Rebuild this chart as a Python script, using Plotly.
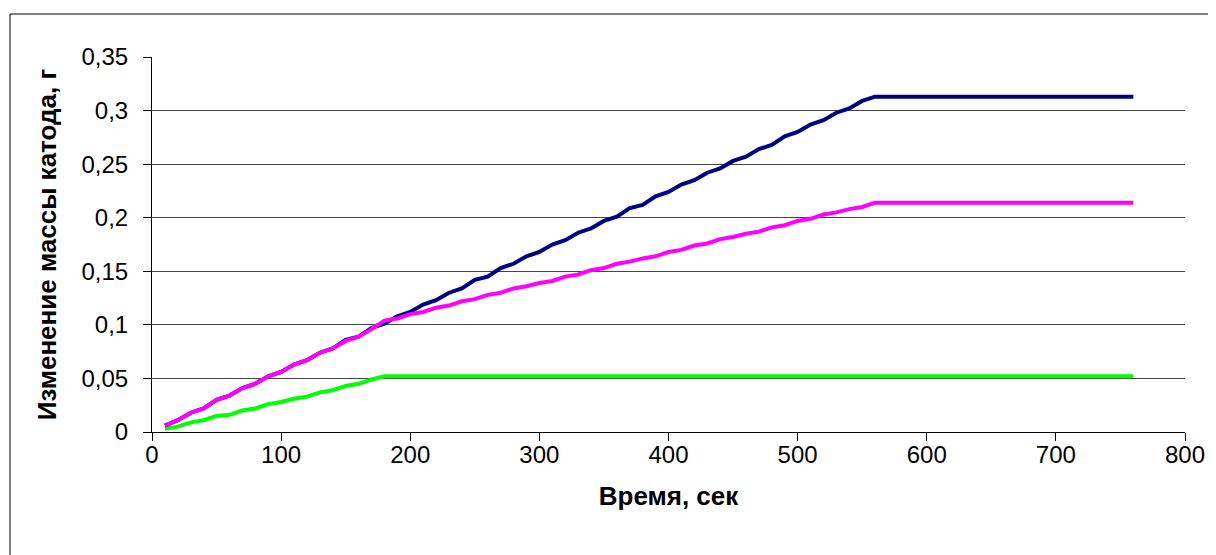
import plotly.graph_objects as go

time_s = [10, 20, 30, 40, 50, 60, 70, 80, 90, 100, 110, 120, 130, 140, 150, 160, 170, 180,
          190, 200, 210, 220, 230, 240, 250, 260, 270, 280, 290, 300, 310, 320, 330, 340, 350,
          360, 370, 380, 390, 400, 410, 420, 430, 440, 450, 460, 470, 480, 490, 500, 510, 520,
          530, 540, 550, 560, 570, 580, 590, 600, 610, 620, 630, 640, 650, 660, 670, 680, 690,
          700, 710, 720, 730, 740, 750, 760]

navy_mass = [0.006, 0.011, 0.018, 0.022, 0.030, 0.034, 0.041, 0.045, 0.052, 0.056, 0.063, 0.067,
             0.074, 0.078, 0.086, 0.089, 0.097, 0.101, 0.108, 0.112, 0.119, 0.123, 0.130, 0.134,
             0.142, 0.145, 0.153, 0.157, 0.164, 0.168, 0.175, 0.179, 0.186, 0.190, 0.197, 0.201,
             0.209, 0.212, 0.220, 0.224, 0.231, 0.235, 0.242, 0.246, 0.253, 0.257, 0.264, 0.268,
             0.276, 0.280, 0.287, 0.291, 0.298, 0.302, 0.309, 0.313,
             0.313, 0.313, 0.313, 0.313, 0.313, 0.313, 0.313, 0.313, 0.313, 0.313,
             0.313, 0.313, 0.313, 0.313, 0.313, 0.313, 0.313, 0.313, 0.313, 0.313]

magenta_mass = [0.006, 0.011, 0.018, 0.022, 0.030, 0.034, 0.041, 0.045, 0.052, 0.056, 0.063, 0.067,
                0.074, 0.078, 0.085, 0.089, 0.096, 0.104,
                0.106, 0.110, 0.112, 0.116, 0.118, 0.122, 0.124, 0.128, 0.130, 0.134, 0.136, 0.139,
                0.141, 0.145, 0.147, 0.151, 0.153, 0.157, 0.159, 0.162, 0.164, 0.168, 0.170, 0.174,
                0.176, 0.180, 0.182, 0.185, 0.187, 0.191, 0.193, 0.197, 0.199, 0.203, 0.205, 0.208,
                0.210, 0.214,
                0.214, 0.214, 0.214, 0.214, 0.214, 0.214, 0.214, 0.214, 0.214, 0.214,
                0.214, 0.214, 0.214, 0.214, 0.214, 0.214, 0.214, 0.214, 0.214, 0.214]

green_mass = [0.003, 0.005, 0.009, 0.011, 0.015, 0.016, 0.020, 0.022, 0.026, 0.028, 0.031, 0.033,
              0.037, 0.039, 0.043, 0.045, 0.049, 0.052,
              0.052, 0.052, 0.052, 0.052, 0.052, 0.052, 0.052, 0.052, 0.052, 0.052, 0.052, 0.052,
              0.052, 0.052, 0.052, 0.052, 0.052, 0.052, 0.052, 0.052, 0.052, 0.052, 0.052, 0.052,
              0.052, 0.052, 0.052, 0.052, 0.052, 0.052, 0.052, 0.052, 0.052, 0.052, 0.052, 0.052,
              0.052, 0.052, 0.052, 0.052, 0.052, 0.052, 0.052, 0.052, 0.052, 0.052, 0.052, 0.052,
              0.052, 0.052, 0.052, 0.052, 0.052, 0.052, 0.052, 0.052, 0.052, 0.052]

x_tick_vals = [0, 100, 200, 300, 400, 500, 600, 700, 800]
x_tick_text = ["0", "100", "200", "300", "400", "500", "600", "700", "800"]
y_tick_vals = [0, 0.05, 0.1, 0.15, 0.2, 0.25, 0.3, 0.35]
y_tick_text = ["0", "0,05", "0,1", "0,15", "0,2", "0,25", "0,3", "0,35"]
y_grid_vals = [0.05, 0.1, 0.15, 0.2, 0.25, 0.3]

x_title = "Время, сек"
y_title = "Изменение массы катода, г"

FONT = "Liberation Sans, Arial, sans-serif"

# page offset (body margin) of 8px
OFF = 8
PL, PR, PT, PB = 152 - OFF, 1185 - OFF, 57 - OFF, 432 - OFF
W, H = 1216, 555
PW, PH = PR - PL, PB - PT

fig = go.Figure()
for ys, col in [(green_mass, "#00FF00"), (navy_mass, "#000080"), (magenta_mass, "#FF00FF")]:
    fig.add_trace(go.Scatter(x=time_s, y=ys, mode="lines",
                             line=dict(color=col, width=4), showlegend=False, hoverinfo="skip"))

fig.add_trace(go.Scatter(x=[None], y=[None], yaxis="y2", showlegend=False, hoverinfo="skip"))

fig.update_layout(
    width=W, height=H,
    margin=dict(l=PL, r=W - PR, t=PT, b=H - PB),
    paper_bgcolor="white", plot_bgcolor="white",
    font=dict(family=FONT, size=24, color="black"),
    xaxis=dict(range=[0, 800], tickvals=x_tick_vals, ticktext=x_tick_text,
               showgrid=False, zeroline=False, showline=True, linecolor="black", linewidth=1,
               ticks="outside", ticklen=8, tickcolor="black", tickwidth=1,
               tickfont=dict(size=24), ticklabelstandoff=-7,
               title=dict(text="<b>" + x_title + "</b>", font=dict(size=26), standoff=20)),
    yaxis=dict(range=[0, 0.35], tickvals=y_tick_vals, ticktext=y_tick_text,
               showgrid=False, zeroline=False, showline=True, linecolor="black", linewidth=1,
               ticks="outside", ticklen=8, tickcolor="black", tickwidth=1,
               tickfont=dict(size=24), ticklabelstandoff=10,
               title=dict(text="<b>" + y_title + "</b>", font=dict(size=26), standoff=17)),
    yaxis2=dict(range=[0, 0.35], overlaying="y", tickvals=y_grid_vals, showticklabels=False,
                showgrid=True, gridcolor="#444444", gridwidth=1, zeroline=False, showline=False,
                ticks="", layer="below traces"),
    shapes=[dict(type="rect", xref="paper", yref="paper",
                 x0=(10 - OFF - PL) / PW, x1=(1230 - PL) / PW,
                 y0=(PB - 570) / PH, y1=(PB - (14 - OFF)) / PH,
                 line=dict(color="black", width=1), fillcolor="rgba(0,0,0,0)")],
)

fig.write_html("out.html")
